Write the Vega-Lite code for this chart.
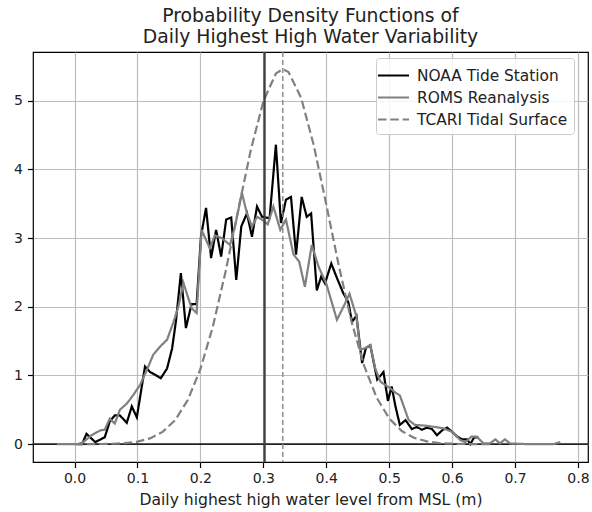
{
  "$schema": "https://vega.github.io/schema/vega-lite/v6.json",
  "width": 555,
  "height": 410,
  "autosize": {"type": "none"},
  "padding": {"left": 33, "top": 52, "right": 4, "bottom": 50},
  "background": "white",
  "config": {
    "font": "DejaVu Sans",
    "view": {"stroke": "#000000", "strokeWidth": 1.2},
    "axis": {
      "grid": true,
      "gridColor": "#bdbdbd",
      "gridWidth": 1.2,
      "domain": false,
      "tickColor": "#000000",
      "tickSize": 5.5,
      "tickWidth": 1.2,
      "labelFontSize": 14,
      "labelColor": "#222222",
      "titleFontSize": 15.6,
      "titleFontWeight": "normal",
      "titleColor": "#222222"
    }
  },
  "title": {
    "text": ["Probability Density Functions of", "Daily Highest High Water Variability"],
    "fontSize": 18.8,
    "fontWeight": "normal",
    "color": "#222222",
    "anchor": "middle",
    "offset": 4,
    "lineHeight": 21
  },
  "datasets": {
    "pdf": [
      {"series": "NOAA Tide Station", "x": 0.005, "y": 0.0},
      {"series": "NOAA Tide Station", "x": 0.012, "y": 0.0},
      {"series": "NOAA Tide Station", "x": 0.019, "y": 0.15},
      {"series": "NOAA Tide Station", "x": 0.033, "y": 0.03},
      {"series": "NOAA Tide Station", "x": 0.048, "y": 0.10},
      {"series": "NOAA Tide Station", "x": 0.056, "y": 0.33},
      {"series": "NOAA Tide Station", "x": 0.064, "y": 0.42},
      {"series": "NOAA Tide Station", "x": 0.072, "y": 0.42},
      {"series": "NOAA Tide Station", "x": 0.083, "y": 0.31},
      {"series": "NOAA Tide Station", "x": 0.091, "y": 0.55},
      {"series": "NOAA Tide Station", "x": 0.099, "y": 0.39},
      {"series": "NOAA Tide Station", "x": 0.112, "y": 1.13},
      {"series": "NOAA Tide Station", "x": 0.120, "y": 1.05},
      {"series": "NOAA Tide Station", "x": 0.128, "y": 1.01},
      {"series": "NOAA Tide Station", "x": 0.137, "y": 0.96},
      {"series": "NOAA Tide Station", "x": 0.147, "y": 1.10},
      {"series": "NOAA Tide Station", "x": 0.155, "y": 1.39},
      {"series": "NOAA Tide Station", "x": 0.161, "y": 1.78},
      {"series": "NOAA Tide Station", "x": 0.169, "y": 2.49},
      {"series": "NOAA Tide Station", "x": 0.177, "y": 1.69},
      {"series": "NOAA Tide Station", "x": 0.186, "y": 2.04},
      {"series": "NOAA Tide Station", "x": 0.194, "y": 2.04},
      {"series": "NOAA Tide Station", "x": 0.201, "y": 3.03},
      {"series": "NOAA Tide Station", "x": 0.209, "y": 3.44},
      {"series": "NOAA Tide Station", "x": 0.217, "y": 2.71},
      {"series": "NOAA Tide Station", "x": 0.225, "y": 3.12},
      {"series": "NOAA Tide Station", "x": 0.233, "y": 2.73},
      {"series": "NOAA Tide Station", "x": 0.241, "y": 3.27},
      {"series": "NOAA Tide Station", "x": 0.249, "y": 3.30},
      {"series": "NOAA Tide Station", "x": 0.257, "y": 2.39},
      {"series": "NOAA Tide Station", "x": 0.265, "y": 3.17},
      {"series": "NOAA Tide Station", "x": 0.274, "y": 3.36},
      {"series": "NOAA Tide Station", "x": 0.282, "y": 3.02},
      {"series": "NOAA Tide Station", "x": 0.290, "y": 3.46},
      {"series": "NOAA Tide Station", "x": 0.298, "y": 3.31},
      {"series": "NOAA Tide Station", "x": 0.310, "y": 3.29},
      {"series": "NOAA Tide Station", "x": 0.320, "y": 4.36},
      {"series": "NOAA Tide Station", "x": 0.328, "y": 3.22},
      {"series": "NOAA Tide Station", "x": 0.336, "y": 3.56},
      {"series": "NOAA Tide Station", "x": 0.344, "y": 3.60},
      {"series": "NOAA Tide Station", "x": 0.352, "y": 2.76},
      {"series": "NOAA Tide Station", "x": 0.361, "y": 3.60},
      {"series": "NOAA Tide Station", "x": 0.369, "y": 3.31},
      {"series": "NOAA Tide Station", "x": 0.376, "y": 3.36},
      {"series": "NOAA Tide Station", "x": 0.385, "y": 2.24},
      {"series": "NOAA Tide Station", "x": 0.392, "y": 2.44},
      {"series": "NOAA Tide Station", "x": 0.398, "y": 2.34},
      {"series": "NOAA Tide Station", "x": 0.408, "y": 2.63},
      {"series": "NOAA Tide Station", "x": 0.417, "y": 2.42},
      {"series": "NOAA Tide Station", "x": 0.427, "y": 2.20},
      {"series": "NOAA Tide Station", "x": 0.435, "y": 2.07},
      {"series": "NOAA Tide Station", "x": 0.441, "y": 1.78},
      {"series": "NOAA Tide Station", "x": 0.448, "y": 1.87},
      {"series": "NOAA Tide Station", "x": 0.457, "y": 1.18},
      {"series": "NOAA Tide Station", "x": 0.463, "y": 1.40},
      {"series": "NOAA Tide Station", "x": 0.470, "y": 1.44},
      {"series": "NOAA Tide Station", "x": 0.481, "y": 0.94},
      {"series": "NOAA Tide Station", "x": 0.491, "y": 1.05},
      {"series": "NOAA Tide Station", "x": 0.498, "y": 0.63},
      {"series": "NOAA Tide Station", "x": 0.504, "y": 0.84},
      {"series": "NOAA Tide Station", "x": 0.510, "y": 0.55},
      {"series": "NOAA Tide Station", "x": 0.517, "y": 0.28},
      {"series": "NOAA Tide Station", "x": 0.526, "y": 0.35},
      {"series": "NOAA Tide Station", "x": 0.536, "y": 0.22},
      {"series": "NOAA Tide Station", "x": 0.544, "y": 0.25},
      {"series": "NOAA Tide Station", "x": 0.552, "y": 0.21},
      {"series": "NOAA Tide Station", "x": 0.560, "y": 0.24},
      {"series": "NOAA Tide Station", "x": 0.568, "y": 0.22},
      {"series": "NOAA Tide Station", "x": 0.576, "y": 0.13},
      {"series": "NOAA Tide Station", "x": 0.584, "y": 0.20},
      {"series": "NOAA Tide Station", "x": 0.592, "y": 0.24},
      {"series": "NOAA Tide Station", "x": 0.600, "y": 0.18},
      {"series": "NOAA Tide Station", "x": 0.608, "y": 0.11},
      {"series": "NOAA Tide Station", "x": 0.616, "y": 0.07},
      {"series": "NOAA Tide Station", "x": 0.624, "y": 0.07},
      {"series": "NOAA Tide Station", "x": 0.629, "y": 0.0},
      {"series": "NOAA Tide Station", "x": 0.635, "y": 0.10},
      {"series": "NOAA Tide Station", "x": 0.642, "y": 0.10},

      {"series": "ROMS Reanalysis", "x": -0.028, "y": 0.0},
      {"series": "ROMS Reanalysis", "x": -0.01, "y": 0.0},
      {"series": "ROMS Reanalysis", "x": 0.005, "y": 0.0},
      {"series": "ROMS Reanalysis", "x": 0.014, "y": 0.03},
      {"series": "ROMS Reanalysis", "x": 0.027, "y": 0.13},
      {"series": "ROMS Reanalysis", "x": 0.041, "y": 0.20},
      {"series": "ROMS Reanalysis", "x": 0.048, "y": 0.21},
      {"series": "ROMS Reanalysis", "x": 0.056, "y": 0.37},
      {"series": "ROMS Reanalysis", "x": 0.064, "y": 0.30},
      {"series": "ROMS Reanalysis", "x": 0.072, "y": 0.50},
      {"series": "ROMS Reanalysis", "x": 0.083, "y": 0.59},
      {"series": "ROMS Reanalysis", "x": 0.093, "y": 0.71},
      {"series": "ROMS Reanalysis", "x": 0.104, "y": 0.86},
      {"series": "ROMS Reanalysis", "x": 0.115, "y": 1.08},
      {"series": "ROMS Reanalysis", "x": 0.125, "y": 1.30},
      {"series": "ROMS Reanalysis", "x": 0.136, "y": 1.42},
      {"series": "ROMS Reanalysis", "x": 0.147, "y": 1.52},
      {"series": "ROMS Reanalysis", "x": 0.157, "y": 1.77},
      {"series": "ROMS Reanalysis", "x": 0.165, "y": 2.0},
      {"series": "ROMS Reanalysis", "x": 0.173, "y": 2.35},
      {"series": "ROMS Reanalysis", "x": 0.180, "y": 2.15},
      {"series": "ROMS Reanalysis", "x": 0.186, "y": 1.98},
      {"series": "ROMS Reanalysis", "x": 0.194, "y": 1.91},
      {"series": "ROMS Reanalysis", "x": 0.202, "y": 3.12},
      {"series": "ROMS Reanalysis", "x": 0.215, "y": 2.85},
      {"series": "ROMS Reanalysis", "x": 0.223, "y": 3.04},
      {"series": "ROMS Reanalysis", "x": 0.234, "y": 3.00},
      {"series": "ROMS Reanalysis", "x": 0.247, "y": 2.90},
      {"series": "ROMS Reanalysis", "x": 0.255, "y": 3.17},
      {"series": "ROMS Reanalysis", "x": 0.266, "y": 3.66},
      {"series": "ROMS Reanalysis", "x": 0.274, "y": 3.36},
      {"series": "ROMS Reanalysis", "x": 0.282, "y": 3.17},
      {"series": "ROMS Reanalysis", "x": 0.290, "y": 3.31},
      {"series": "ROMS Reanalysis", "x": 0.298, "y": 3.27},
      {"series": "ROMS Reanalysis", "x": 0.307, "y": 3.20},
      {"series": "ROMS Reanalysis", "x": 0.316, "y": 3.46},
      {"series": "ROMS Reanalysis", "x": 0.327, "y": 3.12},
      {"series": "ROMS Reanalysis", "x": 0.336, "y": 3.27},
      {"series": "ROMS Reanalysis", "x": 0.348, "y": 2.76},
      {"series": "ROMS Reanalysis", "x": 0.357, "y": 2.66},
      {"series": "ROMS Reanalysis", "x": 0.366, "y": 2.29},
      {"series": "ROMS Reanalysis", "x": 0.377, "y": 2.90},
      {"series": "ROMS Reanalysis", "x": 0.388, "y": 2.58},
      {"series": "ROMS Reanalysis", "x": 0.400, "y": 2.34},
      {"series": "ROMS Reanalysis", "x": 0.417, "y": 1.81},
      {"series": "ROMS Reanalysis", "x": 0.430, "y": 2.05},
      {"series": "ROMS Reanalysis", "x": 0.437, "y": 2.19},
      {"series": "ROMS Reanalysis", "x": 0.448, "y": 1.86},
      {"series": "ROMS Reanalysis", "x": 0.454, "y": 1.37},
      {"series": "ROMS Reanalysis", "x": 0.462, "y": 1.40},
      {"series": "ROMS Reanalysis", "x": 0.470, "y": 1.44},
      {"series": "ROMS Reanalysis", "x": 0.478, "y": 1.10},
      {"series": "ROMS Reanalysis", "x": 0.486, "y": 0.91},
      {"series": "ROMS Reanalysis", "x": 0.494, "y": 0.86},
      {"series": "ROMS Reanalysis", "x": 0.502, "y": 0.81},
      {"series": "ROMS Reanalysis", "x": 0.510, "y": 0.75},
      {"series": "ROMS Reanalysis", "x": 0.517, "y": 0.71},
      {"series": "ROMS Reanalysis", "x": 0.531, "y": 0.35},
      {"series": "ROMS Reanalysis", "x": 0.541, "y": 0.28},
      {"series": "ROMS Reanalysis", "x": 0.557, "y": 0.27},
      {"series": "ROMS Reanalysis", "x": 0.573, "y": 0.25},
      {"series": "ROMS Reanalysis", "x": 0.586, "y": 0.23},
      {"series": "ROMS Reanalysis", "x": 0.600, "y": 0.18},
      {"series": "ROMS Reanalysis", "x": 0.613, "y": 0.06},
      {"series": "ROMS Reanalysis", "x": 0.621, "y": 0.03},
      {"series": "ROMS Reanalysis", "x": 0.631, "y": 0.11},
      {"series": "ROMS Reanalysis", "x": 0.639, "y": 0.11},
      {"series": "ROMS Reanalysis", "x": 0.650, "y": 0.01},
      {"series": "ROMS Reanalysis", "x": 0.660, "y": 0.01},
      {"series": "ROMS Reanalysis", "x": 0.669, "y": 0.07},
      {"series": "ROMS Reanalysis", "x": 0.676, "y": 0.01},
      {"series": "ROMS Reanalysis", "x": 0.684, "y": 0.07},
      {"series": "ROMS Reanalysis", "x": 0.692, "y": 0.01},
      {"series": "ROMS Reanalysis", "x": 0.720, "y": 0.0},
      {"series": "ROMS Reanalysis", "x": 0.761, "y": 0.0},
      {"series": "ROMS Reanalysis", "x": 0.772, "y": 0.03},

      {"series": "TCARI Tidal Surface", "x": 0.00, "y": 0.0002},
      {"series": "TCARI Tidal Surface", "x": 0.02, "y": 0.0006},
      {"series": "TCARI Tidal Surface", "x": 0.04, "y": 0.0019},
      {"series": "TCARI Tidal Surface", "x": 0.06, "y": 0.0055},
      {"series": "TCARI Tidal Surface", "x": 0.08, "y": 0.0148},
      {"series": "TCARI Tidal Surface", "x": 0.10, "y": 0.0365},
      {"series": "TCARI Tidal Surface", "x": 0.12, "y": 0.084},
      {"series": "TCARI Tidal Surface", "x": 0.14, "y": 0.178},
      {"series": "TCARI Tidal Surface", "x": 0.16, "y": 0.351},
      {"series": "TCARI Tidal Surface", "x": 0.18, "y": 0.643},
      {"series": "TCARI Tidal Surface", "x": 0.20, "y": 1.091},
      {"series": "TCARI Tidal Surface", "x": 0.22, "y": 1.718},
      {"series": "TCARI Tidal Surface", "x": 0.24, "y": 2.511},
      {"series": "TCARI Tidal Surface", "x": 0.26, "y": 3.402},
      {"series": "TCARI Tidal Surface", "x": 0.28, "y": 4.278},
      {"series": "TCARI Tidal Surface", "x": 0.30, "y": 4.989},
      {"series": "TCARI Tidal Surface", "x": 0.32, "y": 5.398},
      {"series": "TCARI Tidal Surface", "x": 0.331, "y": 5.46},
      {"series": "TCARI Tidal Surface", "x": 0.34, "y": 5.419},
      {"series": "TCARI Tidal Surface", "x": 0.36, "y": 5.046},
      {"series": "TCARI Tidal Surface", "x": 0.38, "y": 4.359},
      {"series": "TCARI Tidal Surface", "x": 0.40, "y": 3.493},
      {"series": "TCARI Tidal Surface", "x": 0.42, "y": 2.597},
      {"series": "TCARI Tidal Surface", "x": 0.44, "y": 1.791},
      {"series": "TCARI Tidal Surface", "x": 0.46, "y": 1.146},
      {"series": "TCARI Tidal Surface", "x": 0.48, "y": 0.680},
      {"series": "TCARI Tidal Surface", "x": 0.50, "y": 0.374},
      {"series": "TCARI Tidal Surface", "x": 0.52, "y": 0.191},
      {"series": "TCARI Tidal Surface", "x": 0.54, "y": 0.0906},
      {"series": "TCARI Tidal Surface", "x": 0.56, "y": 0.040},
      {"series": "TCARI Tidal Surface", "x": 0.58, "y": 0.0163},
      {"series": "TCARI Tidal Surface", "x": 0.60, "y": 0.0062},
      {"series": "TCARI Tidal Surface", "x": 0.62, "y": 0.0022},
      {"series": "TCARI Tidal Surface", "x": 0.64, "y": 0.0007},
      {"series": "TCARI Tidal Surface", "x": 0.66, "y": 0.0002}
    ]
  },
  "layer": [
    {
      "data": {"values": [{"y": 0}]},
      "mark": {"type": "rule", "color": "#222222", "strokeWidth": 1.6},
      "encoding": {"y": {"field": "y", "type": "quantitative"}}
    },
    {
      "data": {"name": "pdf"},
      "mark": {"type": "line", "strokeWidth": 2.2, "clip": true},
      "encoding": {
        "x": {
          "field": "x",
          "type": "quantitative",
          "scale": {"domain": [-0.066, 0.816], "nice": false, "zero": false},
          "axis": {
            "values": [0, 0.1, 0.2, 0.3, 0.4, 0.5, 0.6, 0.7, 0.8],
            "format": ".1f",
            "title": "Daily highest high water level from MSL (m)",
            "labelPadding": 4,
            "titlePadding": 7
          }
        },
        "y": {
          "field": "y",
          "type": "quantitative",
          "scale": {"domain": [-0.26, 5.71], "nice": false, "zero": false},
          "axis": {
            "values": [0, 1, 2, 3, 4, 5],
            "format": "d",
            "title": null,
            "labelPadding": 5
          }
        },
        "color": {
          "field": "series",
          "type": "nominal",
          "scale": {
            "domain": ["NOAA Tide Station", "ROMS Reanalysis", "TCARI Tidal Surface"],
            "range": ["#000000", "#808080", "#808080"]
          },
          "legend": {
            "title": null,
            "orient": "none",
            "legendX": 343,
            "legendY": 6,
            "symbolType": "M-1.55,0L1.55,0",
            "symbolSize": 400,
            "symbolStrokeWidth": 2.2,
            "labelFontSize": 15.4,
            "labelColor": "#222222",
            "labelOffset": 12,
            "rowPadding": 2,
            "padding": 6,
            "fillColor": "rgba(255,255,255,0.85)",
            "strokeColor": "#cccccc",
            "cornerRadius": 3
          }
        },
        "strokeDash": {
          "field": "series",
          "type": "nominal",
          "scale": {
            "domain": ["NOAA Tide Station", "ROMS Reanalysis", "TCARI Tidal Surface"],
            "range": [[1, 0], [1, 0], [8.5, 3.8]]
          },
          "legend": null
        }
      }
    },
    {
      "data": {"values": [{"x": 0.302}]},
      "mark": {"type": "rule", "color": "#404040", "strokeWidth": 2.3},
      "encoding": {"x": {"field": "x", "type": "quantitative"}}
    },
    {
      "data": {"values": [{"x": 0.331}]},
      "mark": {"type": "rule", "color": "#888888", "strokeWidth": 1.4, "strokeDash": [5, 3]},
      "encoding": {"x": {"field": "x", "type": "quantitative"}}
    }
  ]
}
